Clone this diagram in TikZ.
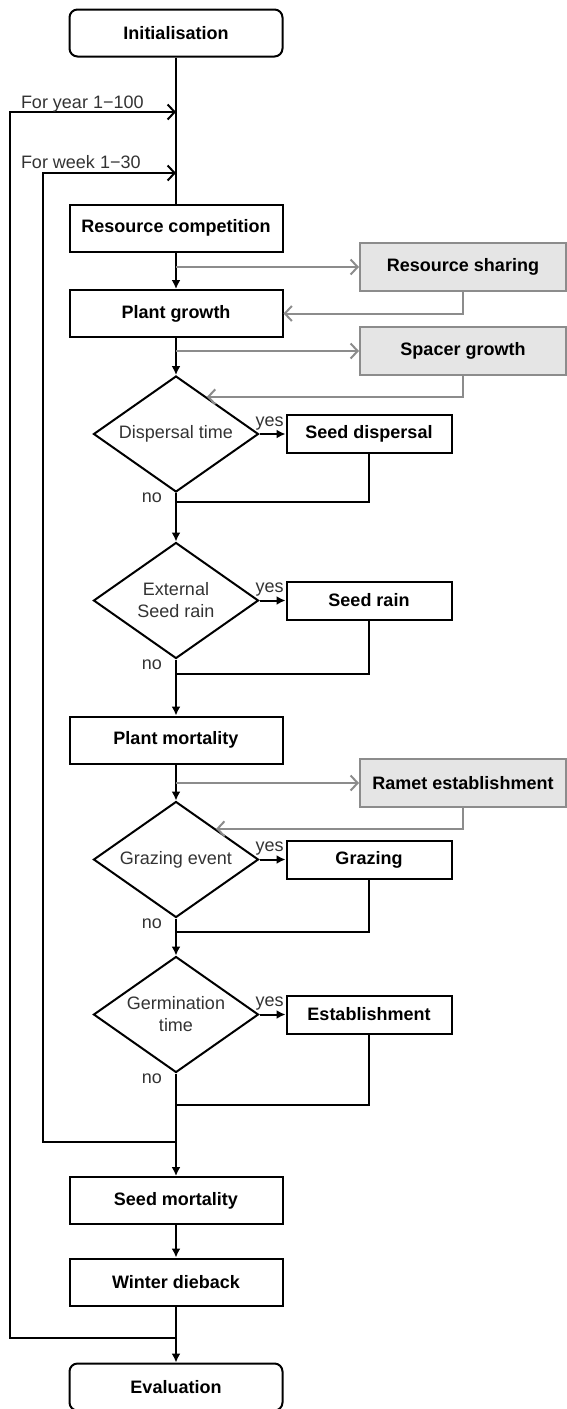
\documentclass[tikz,border=0pt]{standalone}
\usepackage{fontspec}
\setmainfont{Liberation Sans}
\usepackage{tikz}
\usetikzlibrary{arrows.meta}
\usetikzlibrary{positioning}
\usetikzlibrary{shapes.geometric}
\usetikzlibrary{calc}
\newcommand{\chartfont}{\fontsize{18}{22}\selectfont}
\definecolor{mgray}{rgb}{0.55, 0.55, 0.55}
\definecolor{lgray}{rgb}{0.9, 0.9, 0.9}
\definecolor{tgray}{rgb}{0.2, 0.2, 0.2}
\tikzset{box/.style = {draw, rectangle, line width = 2pt, minimum width = 213pt,
                       minimum height = 47pt, font = \chartfont\bfseries}}
\tikzset{term/.style = {box, rounded corners = 8pt}}
\tikzset{sbox/.style = {box, minimum width = 165pt, minimum height = 38pt}}
\tikzset{gbox/.style = {box, draw = mgray, fill = lgray, minimum width = 206pt,
                        minimum height = 48pt}}
\tikzset{cond/.style = {draw, diamond, aspect = 1.43, inner sep = 0, line width = 2pt,
                        minimum width = 165pt, minimum height = 116pt, align = center,
                        text = tgray, font = \chartfont}}
\tikzset{lbl/.style = {inner sep = 0, text = tgray, font = \chartfont}}
\tikzset{arr/.style = {-{Latex[length = 9pt, width = 9pt]}}}
\tikzset{garr/.style = {draw = mgray, -{Straight Barb[length = 7pt, width = 15pt]}}}
\tikzset{larr/.style = {-{Straight Barb[length = 7pt, width = 15pt]}}}

\begin{document}
\begin{tikzpicture}[x = 1pt, y = -1pt, line width = 2pt, font = \chartfont]
      \useasboundingbox (0, 0) rectangle (567, 1409);

      % main column
      \node [term] (init) at (176, 33) {Initialisation};
      \node [box] (rcomp) at (176, 228) {Resource competition};
      \node [box] (pgrow) at (176, 313.5) {Plant growth};
      \node [cond] (disp) at (176, 434) {Dispersal time};
      \node [cond] (ext) at (176, 600.5) {External\\Seed rain};
      \node [box] (pmort) at (176, 740) {Plant mortality};
      \node [cond] (graze) at (176, 859.5) {Grazing event};
      \node [cond] (germ) at (176, 1014.5) {Germination\\time};
      \node [box] (smort) at (176, 1200.5) {Seed mortality};
      \node [box] (winter) at (176, 1282) {Winter dieback};
      \node [term] (eval) at (176, 1387) {Evaluation};

      % yes branches
      \node [sbox, right = 26pt of disp] (sdisp) {Seed dispersal};
      \node [sbox, right = 26pt of ext] (srain) {Seed rain};
      \node [sbox, right = 26pt of graze] (grazing) {Grazing};
      \node [sbox, right = 26pt of germ] (estab) {Establishment};

      % clonal submodels
      \node [gbox] (share) at (463, 267) {Resource sharing};
      \node [gbox] (spacer) at (463, 351) {Spacer growth};
      \node [gbox] (ramet) at (463, 783) {Ramet establishment};

      \coordinate (j1) at ($(disp.south) + (0, 9)$);
      \coordinate (j2) at ($(ext.south) + (0, 14)$);
      \coordinate (j3) at ($(graze.south) + (0, 13)$);
      \coordinate (j4) at ($(germ.south) + (0, 31)$);
      \coordinate (wk) at (176, 1142);
      \coordinate (yr) at (176, 1338);
      \coordinate (wkin) at (176, 173);
      \coordinate (yrin) at (176, 112);

      \draw (init) -- (rcomp);
      \draw [arr] (rcomp) -- (pgrow);
      \draw [arr] (pgrow) -- (disp);
      \draw [arr] (disp) -- (ext);
      \draw [arr] (ext) -- (pmort);
      \draw [arr] (pmort) -- (graze);
      \draw [arr] (graze) -- (germ);
      \draw [arr] (germ) -- (smort);
      \draw [arr] (smort) -- (winter);
      \draw [arr] (winter) -- (eval);

      \draw [arr] (disp.east) -- (sdisp.west);
      \draw [arr] (ext.east) -- (srain.west);
      \draw [arr] (graze.east) -- (grazing.west);
      \draw [arr] (germ.east) -- (estab.west);

      \draw (sdisp.south) |- (j1);
      \draw (srain.south) |- (j2);
      \draw (grazing.south) |- (j3);
      \draw (estab.south) |- (j4);

      \draw [garr] (rcomp.south |- share.west) -- (share.west);
      \draw [garr] (share.south) |- (pgrow.east);
      \draw [garr] (pgrow.south |- spacer.west) -- (spacer.west);
      \draw [garr] (spacer.south) |- ($(disp.north)!0.37!(disp.east)$);
      \draw [garr] (pmort.south |- ramet.west) -- (ramet.west);
      \draw [garr] (ramet.south) |- ($(graze.north)!0.48!(graze.east)$);

      % loops
      \draw [larr] (wk) -| (43, 173) -- (wkin);
      \draw [larr] (yr) -| (10, 112) -- (yrin);
      \node [lbl, anchor = base west] (yrlbl) at (20, 108) {For year 1−100};
      \node [lbl, anchor = base west] (wklbl) at (20, 168) {For week 1−30};

      \foreach \d in {disp, ext, graze, germ} {
        \node [lbl, anchor = base west] at ($(\d.east) + (-5, -8)$) {yes};
        \node [lbl, anchor = east] at ($(\d.south) + (-13, 5)$) {no};
      }
\end{tikzpicture}
\end{document}
